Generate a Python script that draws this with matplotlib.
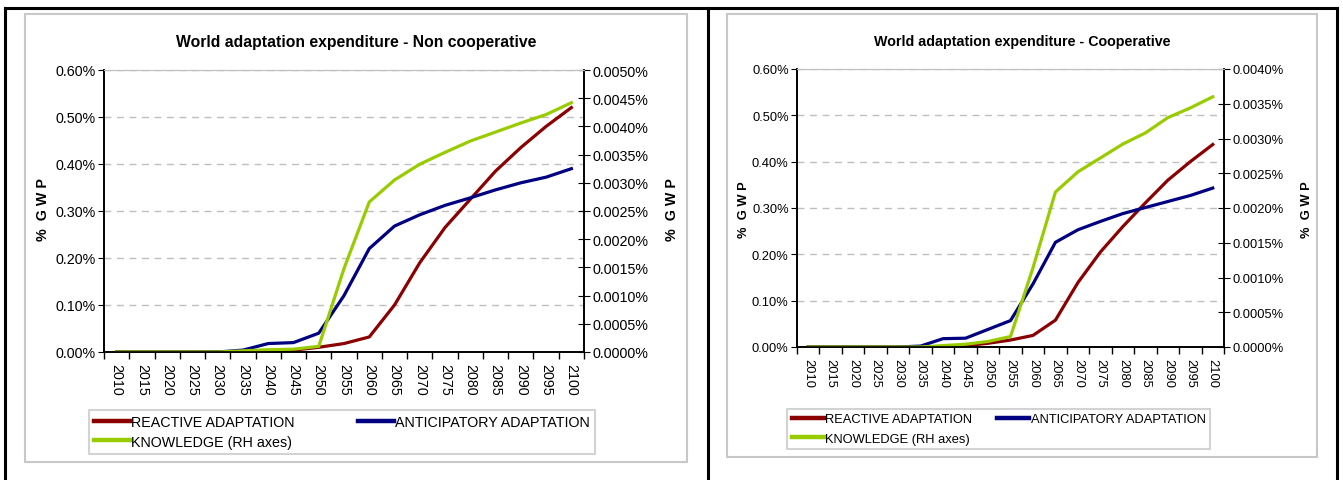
import matplotlib
matplotlib.use('Agg')
import matplotlib.pyplot as plt
from matplotlib.lines import Line2D
from matplotlib.patches import Rectangle
from matplotlib.ticker import FuncFormatter, MultipleLocator, FixedLocator

plt.rcParams['font.family'] = ['Liberation Sans', 'DejaVu Sans']

years = [str(y) for y in range(2010, 2101, 5)]

# Non cooperative (left axis, % GWP)
nc_reactive = [0, 0, 0, 0, 0, 0, 0.002, 0.004, 0.010, 0.018, 0.032, 0.100,
               0.190, 0.265, 0.325, 0.385, 0.435, 0.480, 0.520]
nc_anticip = [0, 0, 0, 0, 0, 0.004, 0.018, 0.020, 0.040, 0.120, 0.220, 0.268,
              0.292, 0.312, 0.328, 0.345, 0.360, 0.372, 0.390]
# knowledge on right axis (% GWP)
nc_knowledge = [0, 0, 0, 0, 0, 0.00002, 0.00004, 0.00005, 0.00010, 0.00148,
                0.00266, 0.00305, 0.00333, 0.00354, 0.00374, 0.00390,
                0.00406, 0.00421, 0.00442]

# Cooperative
co_reactive = [0, 0, 0, 0, 0, 0, 0.001, 0.003, 0.008, 0.015, 0.025, 0.058,
               0.139, 0.205, 0.260, 0.311, 0.360, 0.400, 0.437]
co_anticip = [0, 0, 0, 0, 0, 0.002, 0.018, 0.019, 0.038, 0.057, 0.136, 0.226,
              0.253, 0.271, 0.288, 0.301, 0.314, 0.327, 0.343]
co_knowledge = [0, 0, 0, 0, 0, 0, 0.00002, 0.00004, 0.00008, 0.00015,
                0.00114, 0.00223, 0.00252, 0.00272, 0.00292, 0.00308,
                0.00330, 0.00344, 0.00360]

RED = '#8B0000'
BLUE = '#000080'
GREEN = '#99CC00'

W, H = 1343, 481
fig = plt.figure(figsize=(W / 100, H / 100), dpi=100)


def px_rect(x0, y0, x1, y1):
    # pixel box (top-left origin) -> figure fraction [l, b, w, h]
    return [x0 / W, 1 - y1 / H, (x1 - x0) / W, (y1 - y0) / H]


def draw_panel(box, frame, title, reactive, anticip, knowledge, rmax,
               lab_left, lab_right, leg_box, fs, lspace):
    # chart frame (light grey)
    l, b, w, h = px_rect(*frame)
    fig.add_artist(Rectangle((l, b), w, h, transform=fig.transFigure,
                             fill=False, edgecolor='#c8c8c8', lw=1.5))
    fig.text(l + w / 2, 1 - 42 / H, title, ha='center', va='center',
             fontsize=fs * 1.1, fontweight='bold')

    ax = fig.add_axes(px_rect(*box))
    x = list(range(len(years)))
    l1, = ax.plot(x, reactive, color=RED, lw=2.3, label='REACTIVE ADAPTATION')
    l2, = ax.plot(x, anticip, color=BLUE, lw=2.3, label='ANTICIPATORY ADAPTATION')
    ax2 = ax.twinx()
    l3, = ax2.plot(x, knowledge, color=GREEN, lw=2.3, label='KNOWLEDGE (RH axes)')

    ax.set_xlim(-0.5, len(years) - 0.5)
    ax.set_ylim(0, 0.6)
    ax2.set_ylim(0, rmax)
    ax.yaxis.set_major_locator(MultipleLocator(0.1))
    ax.yaxis.set_major_formatter(FuncFormatter(lambda v, p: f'{v:.2f}%'))
    ax2.yaxis.set_major_locator(MultipleLocator(0.0005))
    ax2.yaxis.set_major_formatter(FuncFormatter(lambda v, p: f'{v:.4f}%'))

    ax.set_xticks(x)
    ax.set_xticklabels(years, rotation=-90, fontsize=fs)
    ax.xaxis.set_minor_locator(FixedLocator([i - 0.5 for i in range(len(years) + 1)]))
    ax.tick_params(axis='x', which='major', length=0, pad=8)
    ax.tick_params(axis='x', which='minor', length=5, direction='out', width=1)
    ax.tick_params(axis='y', length=4, direction='out', labelsize=fs, pad=2)
    ax2.tick_params(axis='y', length=8, direction='inout', labelsize=fs, pad=2)

    ax.yaxis.grid(True, color='#bfbfbf', ls=(0, (5, 4)), lw=1)
    for a in (ax, ax2):
        a.spines['top'].set_color('#c0c0c0')
        a.spines['left'].set_linewidth(1.2)
        a.spines['right'].set_linewidth(1.2)
        a.spines['bottom'].set_linewidth(1.2)
    ax2.set_zorder(ax.get_zorder() + 1)

    for xp in (lab_left, lab_right):
        fig.text(xp / W, 1 - 210 / H, '%  G W P', rotation=90,
                 ha='center', va='center', fontsize=fs, fontweight='bold')

    leg = fig.legend([l1, l3, l2], [l1.get_label(), l3.get_label(), l2.get_label()],
                     ncol=2, loc='center', bbox_to_anchor=px_rect(*leg_box),
                     mode='expand', fontsize=fs, frameon=True, fancybox=False,
                     edgecolor='#c8c8c8', handlelength=2.5, handletextpad=0.1,
                     borderpad=0.35, labelspacing=lspace, borderaxespad=0,
                     columnspacing=1.0)
    leg.get_frame().set_linewidth(1.5)
    for hl in leg.get_lines():
        hl.set_linewidth(3.2)


draw_panel((104, 71, 584, 353), (25, 15, 687, 463),
           'World adaptation expenditure - Non cooperative',
           nc_reactive, nc_anticip, nc_knowledge, 0.005, 43, 672,
           (89, 412, 595, 454), 10.3, 0.35)
draw_panel((797, 70, 1224, 348), (727, 15, 1317, 458),
           'World adaptation expenditure - Cooperative',
           co_reactive, co_anticip, co_knowledge, 0.004, 744, 1307,
           (787, 408, 1210, 452), 9.3, 0.6)

# table borders
for xs, ys in [((5, 1337), (9, 9)), ((5, 5), (9, 481)),
               ((708, 708), (9, 481)), ((1337, 1337), (9, 481))]:
    fig.add_artist(Line2D([v / W for v in xs], [1 - v / H for v in ys],
                          transform=fig.transFigure, color='black', lw=2.2))

fig.savefig('out.png', dpi=100)
